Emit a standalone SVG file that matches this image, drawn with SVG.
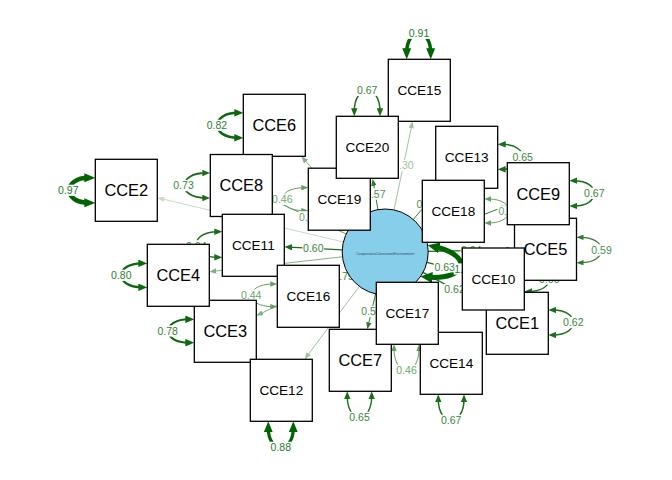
<svg xmlns="http://www.w3.org/2000/svg" width="672" height="480" viewBox="0 0 672 480">
<style>
.n rect{fill:#fff;stroke:#000;stroke-width:1.3}
.n text{font-family:"Liberation Sans",Arial,sans-serif;fill:#000;text-anchor:middle}
.t4{font-size:16.4px}.t5{font-size:13.6px}
.e{fill:none}
.k1{stroke:#006400}.k2b{stroke:#0c680c}.k2{stroke:#1a6e1a}.k3{stroke:#2e7d2e}.k4{stroke:#62a062}.k5{stroke:#80b280}.k6{stroke:#9ec49e}.k7{stroke:#c5dcc5}
.lb rect{fill:#fff}
.lb text{font-family:"Liberation Sans",Arial,sans-serif;font-size:10.5px;text-anchor:middle}
.c1{fill:#2a7a2a}.c2b{fill:#2f7f2f}.c2{fill:#3a863a}.c3{fill:#4a904a}.c4{fill:#6aa66a}.c6{fill:#9ec49e}
</style>
<defs>
<marker id="m1" viewBox="0 0 10 10" refX="4" refY="5" markerWidth="11" markerHeight="9" markerUnits="userSpaceOnUse" orient="auto-start-reverse" preserveAspectRatio="none"><path d="M0,0L10,5L0,10z" fill="#006400"/></marker>
<marker id="mL" viewBox="0 0 10 10" refX="4" refY="5" markerWidth="12" markerHeight="11" markerUnits="userSpaceOnUse" orient="auto-start-reverse" preserveAspectRatio="none"><path d="M0,0L10,5L0,10z" fill="#006400"/></marker>
<marker id="m2b" viewBox="0 0 10 10" refX="4" refY="5" markerWidth="9" markerHeight="7.5" markerUnits="userSpaceOnUse" orient="auto-start-reverse" preserveAspectRatio="none"><path d="M0,0L10,5L0,10z" fill="#0c680c"/></marker>
<marker id="m2" viewBox="0 0 10 10" refX="4" refY="5" markerWidth="8" markerHeight="6.5" markerUnits="userSpaceOnUse" orient="auto-start-reverse" preserveAspectRatio="none"><path d="M0,0L10,5L0,10z" fill="#1a6e1a"/></marker>
<marker id="m3" viewBox="0 0 10 10" refX="4" refY="5" markerWidth="7" markerHeight="5.5" markerUnits="userSpaceOnUse" orient="auto-start-reverse" preserveAspectRatio="none"><path d="M0,0L10,5L0,10z" fill="#2e7d2e"/></marker>
<marker id="m4" viewBox="0 0 10 10" refX="4" refY="5" markerWidth="7" markerHeight="5.5" markerUnits="userSpaceOnUse" orient="auto-start-reverse" preserveAspectRatio="none"><path d="M0,0L10,5L0,10z" fill="#62a062"/></marker>
<marker id="m5" viewBox="0 0 10 10" refX="4" refY="5" markerWidth="7" markerHeight="5.5" markerUnits="userSpaceOnUse" orient="auto-start-reverse" preserveAspectRatio="none"><path d="M0,0L10,5L0,10z" fill="#80b280"/></marker>
<marker id="m6" viewBox="0 0 10 10" refX="4" refY="5" markerWidth="7" markerHeight="5.5" markerUnits="userSpaceOnUse" orient="auto-start-reverse" preserveAspectRatio="none"><path d="M0,0L10,5L0,10z" fill="#9ec49e"/></marker>
<marker id="m7" viewBox="0 0 10 10" refX="4" refY="5" markerWidth="7" markerHeight="5.5" markerUnits="userSpaceOnUse" orient="auto-start-reverse" preserveAspectRatio="none"><path d="M0,0L10,5L0,10z" fill="#c5dcc5"/></marker>
</defs>
<rect width="672" height="480" fill="#fff"/>
<g id="connectors">
<g id="loadings">
<path class="e k2" stroke-width="1.2" marker-end="url(#m2)" d="M423,272.4L482.1,304.3"/>
<path class="e k7" stroke-width="1" marker-end="url(#m7)" d="M343.4,242L161.4,198.7"/>
<path class="e k5" stroke-width="1" marker-end="url(#m5)" d="M346.7,271.1L260.1,314"/>
<path class="e k5" stroke-width="1" marker-end="url(#m5)" d="M342.5,256.8L213.5,271.3"/>
<path class="e k2" stroke-width="1.3" marker-end="url(#m2)" d="M428.2,251.3L509.7,249.9"/>
<path class="e k5" stroke-width="1" marker-end="url(#m5)" d="M356.9,219.6L304.2,159.5"/>
<path class="e k3" stroke-width="1" marker-end="url(#m3)" d="M375.6,293.9L368.3,325.2"/>
<path class="e k4" stroke-width="1" marker-end="url(#m4)" d="M346.2,234L276.1,201.6"/>
<path class="e k3" stroke-width="1" marker-end="url(#m3)" d="M425.4,236.7L503.4,207"/>
<path class="e k2" stroke-width="1.3" marker-end="url(#m2)" d="M426.9,262.4L457.6,270.1"/>
<path class="e k2" stroke-width="1.2" marker-end="url(#m2)" d="M342.3,249.8L289.1,247.1"/>
<path class="e k6" stroke-width="1" marker-end="url(#m6)" d="M359.4,286.4L307.1,355.9"/>
<path class="e k3" stroke-width="1" marker-end="url(#m3)" d="M413.3,219.4L437.3,191.5"/>
<path class="e k6" stroke-width="1" marker-end="url(#m6)" d="M394,209.9L411.8,125.4"/>
<path class="e k2" stroke-width="2" marker-end="url(#m2)" d="M347.9,273.5L343.5,276"/>
<path class="e k3" stroke-width="1" marker-end="url(#m3)" d="M377.9,209.6L373.4,183"/>
</g>
<g id="residuals">
<path class="e k1" stroke-width="5" marker-start="url(#mL)" marker-end="url(#mL)" d="M434.7,246.8C473.8,255.3 467.2,280.3 427.6,277.1"/>
<path class="e k1" stroke-width="3.5" marker-start="url(#m1)" marker-end="url(#m1)" d="M406.7,52.7C406.7,26.8 430.7,26.8 430.7,52.7"/>
<path class="e k2" stroke-width="1.5" marker-start="url(#m2)" marker-end="url(#m2)" d="M354.3,111.5C354.3,83.2 380,83.2 380,111.5"/>
<path class="e k2b" stroke-width="2.5" marker-start="url(#m2b)" marker-end="url(#m2b)" d="M237.9,112.8C210.4,112.8 210.4,137.8 237.9,137.8"/>
<path class="e k2" stroke-width="1.8" marker-start="url(#m2)" marker-end="url(#m2)" d="M205.5,173C177.2,173 177.2,198 205.5,198"/>
<path class="e k1" stroke-width="4.5" marker-start="url(#m1)" marker-end="url(#m1)" d="M88.7,177.8C62.8,177.8 62.8,202.8 88.7,202.8"/>
<path class="e k2" stroke-width="1.4" marker-start="url(#m2)" marker-end="url(#m2)" d="M217.5,231.7C189.2,231.7 189.2,257.3 217.5,257.3"/>
<path class="e k2b" stroke-width="2.3" marker-start="url(#m2b)" marker-end="url(#m2b)" d="M141.9,263.3C114.4,263.3 114.4,287.3 141.9,287.3"/>
<path class="e k4" stroke-width="1" marker-start="url(#m4)" marker-end="url(#m4)" d="M273.1,284C244,284 244,306.7 273.1,306.7"/>
<path class="e k2b" stroke-width="2.1" marker-start="url(#m2b)" marker-end="url(#m2b)" d="M188.9,319.3C161.4,319.3 161.4,342.7 188.9,342.7"/>
<path class="e k4" stroke-width="1" marker-start="url(#m4)" marker-end="url(#m4)" d="M304.1,187.7C275,187.7 275,210.7 304.1,210.7"/>
<path class="e k2" stroke-width="1.4" marker-start="url(#m2)" marker-end="url(#m2)" d="M502.5,144.3C529.4,144.3 529.4,169.3 502.5,169.3"/>
<path class="e k2" stroke-width="1.5" marker-start="url(#m2)" marker-end="url(#m2)" d="M574.1,180.7C601,180.7 601,206 574.1,206"/>
<path class="e k4" stroke-width="1" marker-start="url(#m4)" marker-end="url(#m4)" d="M488.5,199C516.2,199 516.2,223 488.5,223"/>
<path class="e k3" stroke-width="1.2" marker-start="url(#m3)" marker-end="url(#m3)" d="M580.7,237.3C608.4,237.3 608.4,262.7 580.7,262.7"/>
<path class="e k2" stroke-width="1.2" marker-start="url(#m2)" marker-end="url(#m2)" d="M529.1,266.5C556,266.5 556,291.5 529.1,291.5"/>
<path class="e k2" stroke-width="1.3" marker-start="url(#m2)" marker-end="url(#m2)" d="M553.1,310C580,310 580,335 553.1,335"/>
<path class="e k1" stroke-width="3.2" marker-start="url(#m1)" marker-end="url(#m1)" d="M268.3,427.9C268.3,453.8 293.3,453.8 293.3,427.9"/>
<path class="e k2" stroke-width="1.4" marker-start="url(#m2)" marker-end="url(#m2)" d="M347.3,396.1C347.3,424.4 371.7,424.4 371.7,396.1"/>
<path class="e k4" stroke-width="1" marker-start="url(#m4)" marker-end="url(#m4)" d="M394,348.5C394,377.6 419,377.6 419,348.5"/>
<path class="e k2" stroke-width="1.5" marker-start="url(#m2)" marker-end="url(#m2)" d="M438.3,399.1C438.3,427.4 464,427.4 464,399.1"/>
</g>
<g id="edge-labels" class="lb">
<rect x="453.7" y="263.4" width="21.6" height="11.2"/><text class="c1" x="464.5" y="272.8">1.00</text>
<rect x="408.2" y="27.7" width="21.6" height="11.2"/><text class="c1" x="419" y="37.1">0.91</text>
<rect x="356.4" y="84.7" width="21.6" height="11.2"/><text class="c2" x="367.2" y="94.1">0.67</text>
<rect x="206.1" y="119.7" width="21.6" height="11.2"/><text class="c2b" x="216.9" y="129.1">0.82</text>
<rect x="172.7" y="179.9" width="21.6" height="11.2"/><text class="c2" x="183.5" y="189.3">0.73</text>
<rect x="57.5" y="184.7" width="21.6" height="11.2"/><text class="c1" x="68.3" y="194.1">0.97</text>
<rect x="185.5" y="240.2" width="21.6" height="11.2"/><text class="c2" x="196.3" y="249.6">0.64</text>
<rect x="110.5" y="269.7" width="21.6" height="11.2"/><text class="c2b" x="121.3" y="279.1">0.80</text>
<rect x="240.4" y="289.7" width="21.6" height="11.2"/><text class="c4" x="251.2" y="299.1">0.44</text>
<rect x="156.8" y="325.4" width="21.6" height="11.2"/><text class="c2b" x="167.6" y="334.8">0.78</text>
<rect x="270" y="441.7" width="21.6" height="11.2"/><text class="c1" x="280.8" y="451.1">0.88</text>
<rect x="348.7" y="411.7" width="21.6" height="11.2"/><text class="c2" x="359.5" y="421.1">0.65</text>
<rect x="395.7" y="364.7" width="21.6" height="11.2"/><text class="c4" x="406.5" y="374.1">0.46</text>
<rect x="440.4" y="414.7" width="21.6" height="11.2"/><text class="c2" x="451.2" y="424.1">0.67</text>
<rect x="562.5" y="316.9" width="21.6" height="11.2"/><text class="c2" x="573.3" y="326.3">0.62</text>
<rect x="538.5" y="273.4" width="21.6" height="11.2"/><text class="c2" x="549.3" y="282.8">0.60</text>
<rect x="590.7" y="244.4" width="21.6" height="11.2"/><text class="c3" x="601.5" y="253.8">0.59</text>
<rect x="583.5" y="187.7" width="21.6" height="11.2"/><text class="c2" x="594.3" y="197.1">0.67</text>
<rect x="511.9" y="151.2" width="21.6" height="11.2"/><text class="c2" x="522.7" y="160.6">0.65</text>
<rect x="497.5" y="205.4" width="11" height="11.2"/><text class="c4" x="498.5" y="214.8" style="text-anchor:start">0.</text>
<rect x="271.5" y="193.6" width="21.6" height="11.2"/><text class="c4" x="282.3" y="203">0.46</text>
<rect x="443.7" y="283.9" width="21.6" height="11.2"/><text class="c2" x="454.5" y="293.3">0.62</text>
<rect x="460.5" y="244.9" width="21.6" height="11.2"/><text class="c2" x="471.3" y="254.3">0.64</text>
<rect x="360.7" y="306" width="21.6" height="11.2"/><text class="c3" x="371.5" y="315.4">0.59</text>
<rect x="298.4" y="211.3" width="21.6" height="11.2"/><text class="c4" x="309.2" y="220.7">0.52</text>
<rect x="433.8" y="261.2" width="21.6" height="11.2"/><text class="c2" x="444.6" y="270.6">0.63</text>
<rect x="302.5" y="242.8" width="21.6" height="11.2"/><text class="c2" x="313.3" y="252.2">0.60</text>
<rect x="415.5" y="198.3" width="11" height="11.2"/><text class="c3" x="416.5" y="207.7" style="text-anchor:start">0.</text>
<rect x="392.6" y="160" width="21.6" height="11.2"/><text class="c6" x="403.4" y="169.4">0.30</text>
<rect x="332.8" y="270.4" width="21.6" height="11.2"/><text class="c2" x="343.6" y="279.8">0.75</text>
<rect x="364.5" y="188.4" width="21.6" height="11.2"/><text class="c3" x="375.3" y="197.8">0.57</text>
</g>
</g>
<g id="CooperativeClassroomEnvironment">
<circle cx="385.2" cy="252" r="43" fill="#87ceeb" stroke="#000" stroke-width="1"/>
<text x="385.2" y="254.5" font-family="'Liberation Sans',Arial,sans-serif" font-size="3.6" fill="#3a4a5a" text-anchor="middle" textLength="58" lengthAdjust="spacingAndGlyphs">CooperativeClassroomEnvironment</text>
</g>
<g id="CCE1" class="n"><rect x="486.3" y="292.3" width="62" height="62"/><text class="t4" x="517.3" y="329.2">CCE1</text></g>
<g id="CCE2" class="n"><rect x="95.3" y="159.3" width="62" height="62"/><text class="t4" x="126.3" y="196.2">CCE2</text></g>
<g id="CCE3" class="n"><rect x="194.3" y="300.3" width="62" height="62"/><text class="t4" x="225.3" y="337.2">CCE3</text></g>
<g id="CCE4" class="n"><rect x="147.3" y="244.3" width="62" height="62"/><text class="t4" x="178.3" y="281.2">CCE4</text></g>
<g id="CCE5" class="n"><rect x="514.5" y="218.3" width="62" height="62"/><text class="t4" x="545.5" y="255.2">CCE5</text></g>
<g id="CCE6" class="n"><rect x="243.3" y="94.3" width="62" height="62"/><text class="t4" x="274.3" y="131.2">CCE6</text></g>
<g id="CCE7" class="n"><rect x="329.3" y="329.3" width="62" height="62"/><text class="t4" x="360.3" y="366.2">CCE7</text></g>
<g id="CCE8" class="n"><rect x="210.3" y="154.5" width="62" height="62"/><text class="t4" x="241.3" y="191.4">CCE8</text></g>
<g id="CCE9" class="n"><rect x="507.3" y="162.7" width="62" height="62"/><text class="t4" x="538.3" y="199.6">CCE9</text></g>
<g id="CCE10" class="n"><rect x="462.3" y="248" width="62" height="62"/><text class="t5" x="493.3" y="283.9">CCE10</text></g>
<g id="CCE11" class="n"><rect x="222.3" y="214.3" width="62" height="62"/><text class="t5" x="253.3" y="250.2">CCE11</text></g>
<g id="CCE12" class="n"><rect x="250.3" y="359.3" width="62" height="62"/><text class="t5" x="281.3" y="395.2">CCE12</text></g>
<g id="CCE13" class="n"><rect x="435.7" y="126.3" width="62" height="62"/><text class="t5" x="466.7" y="162.2">CCE13</text></g>
<g id="CCE14" class="n"><rect x="420.3" y="332.3" width="62" height="62"/><text class="t5" x="451.3" y="368.2">CCE14</text></g>
<g id="CCE15" class="n"><rect x="388.3" y="59.3" width="62" height="62"/><text class="t5" x="419.3" y="95.2">CCE15</text></g>
<g id="CCE16" class="n"><rect x="277.3" y="265.3" width="62" height="62"/><text class="t5" x="308.3" y="301.2">CCE16</text></g>
<g id="CCE17" class="n"><rect x="376.3" y="282.3" width="62" height="62"/><text class="t5" x="407.3" y="318.2">CCE17</text></g>
<g id="CCE18" class="n"><rect x="422.3" y="180.3" width="62" height="62"/><text class="t5" x="453.3" y="216.2">CCE18</text></g>
<g id="CCE19" class="n"><rect x="308.3" y="168.2" width="62" height="62"/><text class="t5" x="339.3" y="204.1">CCE19</text></g>
<g id="CCE20" class="n"><rect x="336.3" y="116.3" width="62" height="62"/><text class="t5" x="367.3" y="152.2">CCE20</text></g>
</svg>
